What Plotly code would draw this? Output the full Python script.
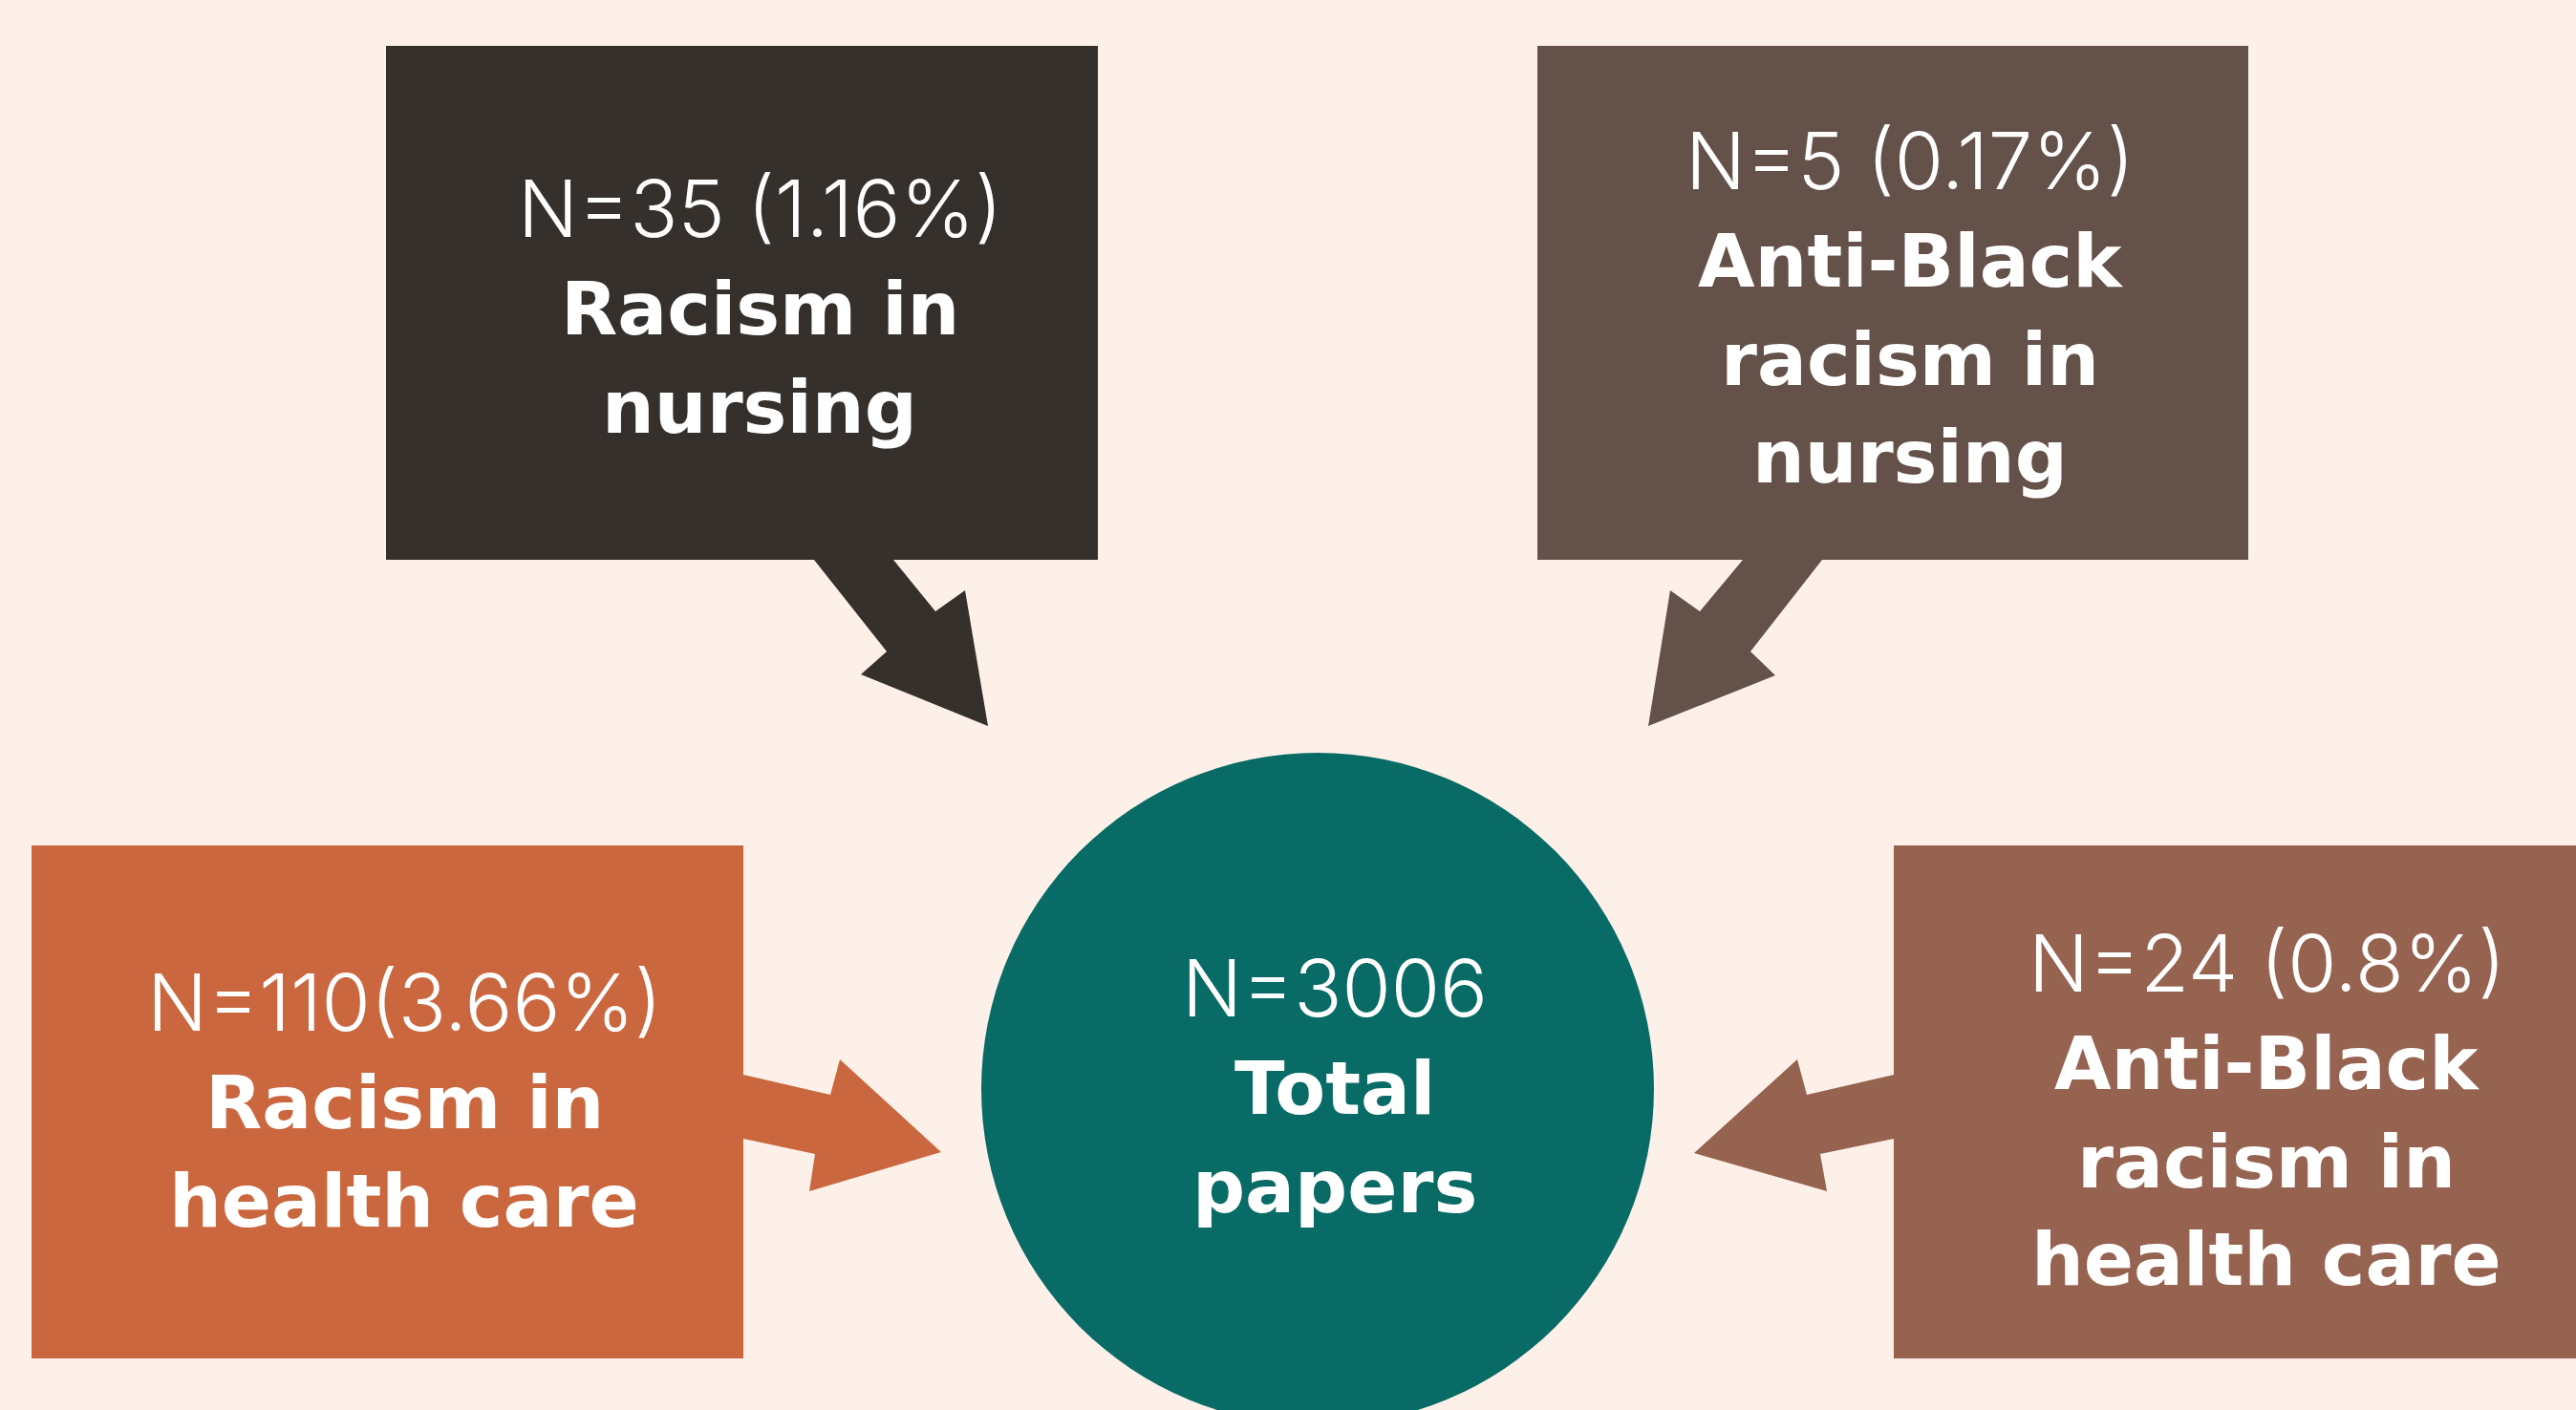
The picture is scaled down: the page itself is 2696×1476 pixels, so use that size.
import plotly.graph_objects as go

# ---------------- data ----------------
categories = ["Racism in nursing", "Anti-Black racism in nursing",
              "Racism in health care", "Anti-Black racism in health care",
              "Total papers"]
counts = [35, 5, 110, 24, 3006]
percents = ["1.16%", "0.17%", "3.66%", "0.8%", None]
gaps = [" ", " ", "", " ", ""]
title_lines = [["Racism in", "nursing"],
               ["Anti-Black", "racism in", "nursing"],
               ["Racism in", "health care"],
               ["Anti-Black", "racism in", "health care"],
               ["Total", "papers"]]

# ---------------- layout / style ----------------
W, H = 2696, 1476
BG = "#FDF0E9"
colors = ["#35302C", "#645149", "#CB673F", "#966351", "#086B66"]
FONT_LIGHT = "Inter"
FONT_BOLD = "DejaVu Sans"

boxes = [  # x0, y0, x1, y1 (pixels, y down)
    (404, 48, 1149, 586),
    (1609, 48, 2353, 586),
    (33, 885, 778, 1422),
    (1982, 885, 2700, 1422),
]
circle = (1379, 1140, 352)  # cx, cy, r

arrows = [
    [(852, 586), (935, 586), (979, 640), (1010, 618), (1034, 760), (901, 706), (928, 682)],
    [(1907, 586), (1824, 586), (1779, 640), (1748, 618), (1725, 760), (1858, 707), (1832, 682)],
    [(778, 1125), (869, 1146), (879, 1109), (985, 1206), (847, 1247), (853, 1208), (778, 1192)],
    [(1982, 1125), (1891, 1146), (1881, 1109), (1773, 1207), (1912, 1247), (1905, 1208), (1982, 1192)],
]

text_cx = [795, 1999, 423, 2372, 1397]
first_baseline = [248, 198, 1079, 1038, 1064]
LINE_GAP = 102.5
FS_LIGHT = 83
FS_BOLD = 77
CAP_LIGHT = 60
CAP_BOLD = 54

fig = go.Figure()
fig.add_trace(go.Scatter(x=[0, W], y=[0, H], mode="markers",
                         marker=dict(opacity=0), hoverinfo="skip", showlegend=False))

shapes = []
for (x0, y0, x1, y1), c in zip(boxes, colors[:4]):
    shapes.append(dict(type="rect", xref="x", yref="y", x0=x0, y0=y0, x1=x1, y1=y1,
                       fillcolor=c, line=dict(width=0), layer="below"))
for pts, c in zip(arrows, colors[:4]):
    path = "M " + " L ".join(f"{px},{py}" for px, py in pts) + " Z"
    shapes.append(dict(type="path", xref="x", yref="y", path=path,
                       fillcolor=c, line=dict(width=0), layer="below"))
cx, cy, r = circle
shapes.append(dict(type="circle", xref="x", yref="y", x0=cx - r, y0=cy - r,
                   x1=cx + r, y1=cy + r, fillcolor=colors[4], line=dict(width=0),
                   layer="below"))

annotations = []
for i in range(len(categories)):
    if percents[i]:
        ntxt = f"N={counts[i]}{gaps[i]}({percents[i]})"
    else:
        ntxt = f"N={counts[i]}"
    b = first_baseline[i]
    annotations.append(dict(x=text_cx[i], y=b - CAP_LIGHT / 2, xref="x", yref="y",
                            text=ntxt, showarrow=False, xanchor="center", yanchor="middle",
                            font=dict(family=FONT_LIGHT, size=FS_LIGHT, color="white", weight=300)))
    for j, line in enumerate(title_lines[i]):
        bb = b + LINE_GAP * (j + 1)
        annotations.append(dict(x=text_cx[i], y=bb - CAP_BOLD / 2, xref="x", yref="y",
                                text=line, showarrow=False, xanchor="center", yanchor="middle",
                                font=dict(family=FONT_BOLD, size=FS_BOLD, color="white", weight=700)))

fig.update_layout(
    width=W, height=H, margin=dict(l=0, r=0, t=0, b=0),
    paper_bgcolor=BG, plot_bgcolor=BG,
    xaxis=dict(range=[0, W], visible=False, fixedrange=True),
    yaxis=dict(range=[H, 0], visible=False, fixedrange=True),
    shapes=shapes, annotations=annotations, showlegend=False,
)

fig.write_html("out.html", config={"displayModeBar": False},
               post_script="document.body.style.margin='0';")
